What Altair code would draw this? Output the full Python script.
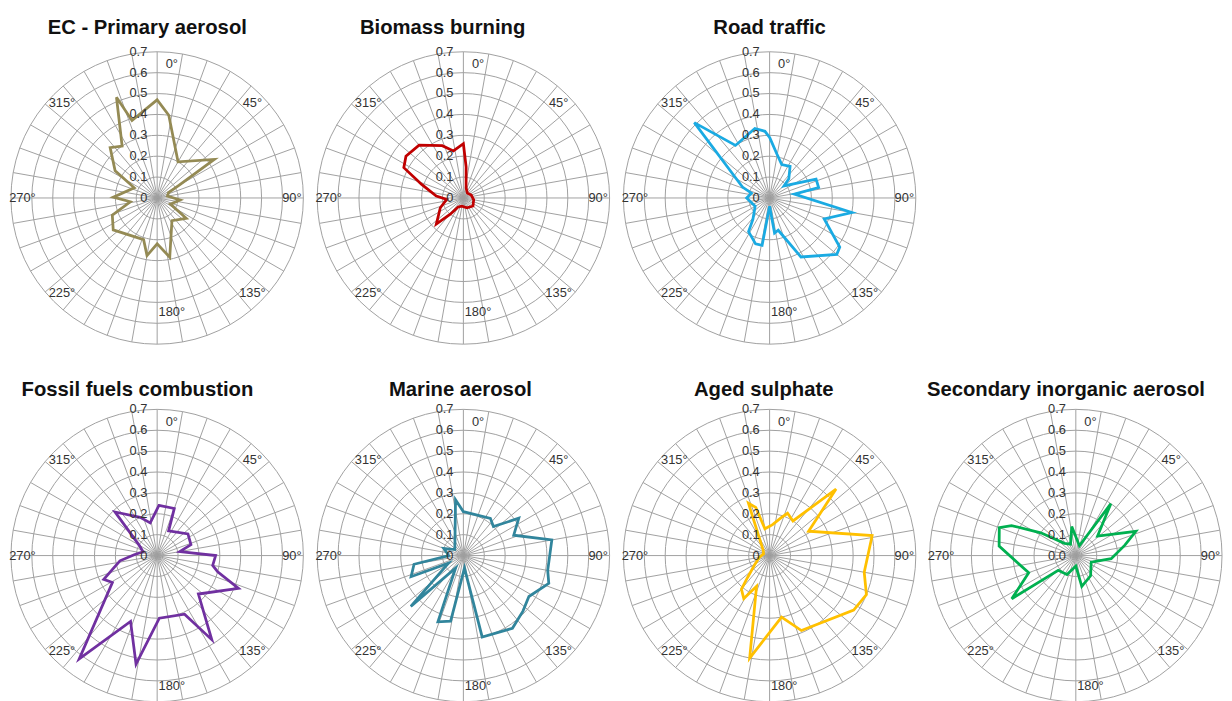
import math
import altair as alt
import pandas as pd

# ---------------- data ----------------
TITLES = ["EC - Primary aerosol", "Biomass burning", "Road traffic",
          "Fossil fuels combustion", "Marine aerosol", "Aged sulphate",
          "Secondary inorganic aerosol"]

EC_DEG = [0, 8, 30, 56, 60, 65, 80, 95, 115, 125, 147, 168, 180, 190, 198, 234, 249, 262, 271, 294, 303, 317, 326, 338, 342, 355]
EC_VAL = [0.47, 0.40, 0.20, 0.33, 0.12, 0.06, 0.05, 0.11, 0.07, 0.17, 0.13, 0.29, 0.22, 0.28, 0.21, 0.26, 0.23, 0.13, 0.21, 0.12, 0.24, 0.33, 0.30, 0.52, 0.39, 0.44]

BB_DEG = [0, 5, 15, 40, 70, 100, 130, 160, 190, 210, 219, 226, 247, 265, 274, 288, 297, 306, 320, 338, 348]
BB_VAL = [0.26, 0.15, 0.05, 0.03, 0.04, 0.05, 0.06, 0.05, 0.04, 0.05, 0.10, 0.18, 0.12, 0.08, 0.13, 0.21, 0.32, 0.34, 0.33, 0.27, 0.23]

RT_DEG = [0, 10, 20, 33, 45, 50, 68, 78, 81, 100, 111, 125, 130, 152, 165, 172, 180, 189, 197, 212, 218, 240, 270, 285, 292, 315, 327, 348, 356]
RT_VAL = [0.29, 0.21, 0.17, 0.18, 0.13, 0.09, 0.24, 0.24, 0.12, 0.40, 0.28, 0.41, 0.42, 0.32, 0.16, 0.17, 0.04, 0.23, 0.23, 0.19, 0.13, 0.08, 0.11, 0.09, 0.14, 0.51, 0.30, 0.34, 0.32]

FF_DEG = [2, 20, 25, 55, 72, 80, 90, 100, 105, 112, 133, 147, 155, 178, 191, 202, 217, 239, 246, 262, 272, 285, 300, 316, 336, 348]
FF_VAL = [0.24, 0.24, 0.13, 0.18, 0.17, 0.11, 0.28, 0.27, 0.30, 0.42, 0.27, 0.48, 0.31, 0.30, 0.53, 0.34, 0.62, 0.25, 0.28, 0.18, 0.11, 0.07, 0.10, 0.29, 0.20, 0.16]

MA_DEG = [0, 36, 46, 56, 68, 80, 100, 108, 122, 133, 146, 167, 175, 191, 201, 212, 226, 243, 248, 260, 270, 290, 305, 352]
MA_VAL = [0.21, 0.22, 0.20, 0.32, 0.26, 0.43, 0.41, 0.43, 0.37, 0.39, 0.42, 0.40, 0.06, 0.32, 0.34, 0.07, 0.35, 0.08, 0.27, 0.24, 0.07, 0.10, 0.05, 0.27]

AS_DEG = [0, 6, 17, 23, 34, 45, 58, 79, 82, 100, 112, 123, 157, 169, 191, 203, 211, 220, 225, 240, 260, 285, 310, 330, 338, 344, 350]
AS_VAL = [0.14, 0.15, 0.19, 0.22, 0.20, 0.45, 0.22, 0.50, 0.49, 0.46, 0.50, 0.48, 0.39, 0.30, 0.50, 0.16, 0.24, 0.21, 0.15, 0.08, 0.05, 0.03, 0.04, 0.10, 0.27, 0.24, 0.13]

SI_DEG = [0, 20, 34, 48, 68, 78, 95, 113, 144, 169, 180, 205, 230, 236, 250, 277, 290, 295, 303, 317, 335, 352]
SI_VAL = [0.09, 0.05, 0.30, 0.14, 0.31, 0.24, 0.17, 0.08, 0.12, 0.15, 0.05, 0.10, 0.11, 0.37, 0.24, 0.37, 0.39, 0.34, 0.20, 0.08, 0.06, 0.14]

RING_COUNT = 7          # rings at 0.1 ... 0.7
TICK_VALUES = [0.0, 0.1, 0.2, 0.3, 0.4, 0.5, 0.6, 0.7]
TICK_TEXT = ["0", "0.1", "0.2", "0.3", "0.4", "0.5", "0.6", "0.7"]
TICK_TEXT_SIA = ["0.0", "0.1", "0.2", "0.3", "0.4", "0.5", "0.6", "0.7"]
ANGLE_TICKS = [0, 45, 90, 135, 180, 225, 270, 315]

COLORS = ["#948a54", "#c00000", "#1aaae2", "#7030a0", "#31859c", "#ffc000", "#00b050"]

# ---------------- styling ----------------
SIZE = 300
D = 0.7 * (SIZE / 2) / 148.0
GRID = "#a0a0a0"
TEXT = "#333333"
FONT = "Liberation Sans"
STEPS = 73  # points per ring outline (5 degree steps, closed)


def panel(title, degs, vals, color, ticks_text, title_dx, title_y, r180):
    xs = alt.Scale(domain=[-D, D], nice=False, zero=False)
    ys = alt.Scale(domain=[-D, D], nice=False, zero=False)

    rings = alt.Chart(alt.sequence(0, RING_COUNT * STEPS, 1, as_="k")).transform_calculate(
        ring="(floor(datum.k/%d)+1)*0.1" % STEPS,
        a="(datum.k %% %d)*5*PI/180" % STEPS,
    ).transform_calculate(
        gx="datum.ring*sin(datum.a)",
        gy="datum.ring*cos(datum.a)",
    ).mark_line(stroke=GRID, strokeWidth=1).encode(
        x=alt.X("gx:Q", scale=xs, axis=None),
        y=alt.Y("gy:Q", scale=ys, axis=None),
        detail="ring:N",
        order=alt.Order("k:Q"),
    )

    spokes = alt.Chart(alt.sequence(0, 360, 10, as_="deg")).transform_calculate(
        z="0",
        sx="0.7*sin(datum.deg*PI/180)",
        sy="0.7*cos(datum.deg*PI/180)",
    ).mark_rule(stroke=GRID, strokeWidth=1).encode(
        x=alt.X("z:Q", scale=xs, axis=None),
        y=alt.Y("z:Q", scale=ys, axis=None),
        x2="sx:Q", y2="sy:Q",
    )

    df = pd.DataFrame({"deg": degs, "v": vals})
    df["i"] = range(len(df))
    line = alt.Chart(df).transform_calculate(
        px="datum.v*sin(datum.deg*PI/180)",
        py="datum.v*cos(datum.deg*PI/180)",
    ).mark_line(
        interpolate="linear-closed", color=color, strokeWidth=2.8, strokeJoin="miter"
    ).encode(
        x=alt.X("px:Q", scale=xs, axis=None),
        y=alt.Y("py:Q", scale=ys, axis=None),
        order=alt.Order("i:Q"),
    )

    ticks = alt.Chart(pd.DataFrame({"v": TICK_VALUES, "t": ticks_text})).transform_calculate(
        z="0"
    ).mark_text(
        align="right", baseline="middle", dx=-10, fontSize=13, font=FONT, color=TEXT
    ).encode(
        x=alt.X("z:Q", scale=xs, axis=None),
        y=alt.Y("v:Q", scale=ys, axis=None),
        text="t:N",
    )

    angles = alt.Chart(pd.DataFrame({"deg": ANGLE_TICKS})).transform_calculate(
        rr=f"datum.deg == 180 ? {r180} : (datum.deg == 0 ? 0.64 : 0.645)",
        ax="datum.rr*sin(datum.deg*PI/180) + ((datum.deg == 0 || datum.deg == 180) ? 0.07 : 0)",
        ay="datum.rr*cos(datum.deg*PI/180)",
        lab="datum.deg + '°'",
    ).mark_text(
        align="center", baseline="middle", fontSize=13, font=FONT, color=TEXT
    ).encode(
        x=alt.X("ax:Q", scale=xs, axis=None),
        y=alt.Y("ay:Q", scale=ys, axis=None),
        text="lab:N",
    )

    ttl = alt.Chart(pd.DataFrame({"t": [title]})).mark_text(
        align="center", baseline="alphabetic", fontSize=20.5, fontWeight="bold",
        font=FONT, color="#111111"
    ).encode(
        x=alt.value(SIZE / 2 + title_dx), y=alt.value(title_y), text="t:N"
    )

    return alt.layer(rings, spokes, line, ticks, angles, ttl).properties(
        width=SIZE, height=SIZE
    )


SERIES = [(EC_DEG, EC_VAL), (BB_DEG, BB_VAL), (RT_DEG, RT_VAL), (FF_DEG, FF_VAL),
          (MA_DEG, MA_VAL), (AS_DEG, AS_VAL), (SI_DEG, SI_VAL)]
TITLE_DX = [-10, -21, 0, -20, -3, -6, -10]

panels = []
for k, (t, (dg, vl), c) in enumerate(zip(TITLES, SERIES, COLORS)):
    top = k < 3
    panels.append(panel(
        t, dg, vl, c,
        TICK_TEXT_SIA if k == 6 else TICK_TEXT,
        TITLE_DX[k],
        -16 if top else -12,
        0.545 if top else 0.625,
    ))

row1 = alt.hconcat(*panels[:3], spacing=10, bounds="flush")
row2 = alt.hconcat(*panels[3:], spacing=10, bounds="flush")

chart = alt.vconcat(row1, row2, spacing=34).properties(
    padding={"top": 6, "left": 0, "right": 0, "bottom": 0},
    background="white",
).configure_view(strokeWidth=0)

chart.save("out.html", embed_options={"renderer": "svg", "actions": False})
